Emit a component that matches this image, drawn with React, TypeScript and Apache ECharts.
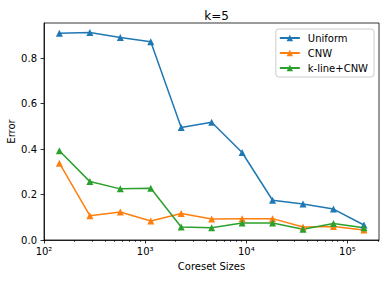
import React, { useEffect, useRef } from "react";
import * as echarts from "echarts";

const coresetSizes = [142, 284, 568, 1136, 2272, 4544, 9088, 18176, 36352, 72704, 145408];
const uniform = [0.91, 0.913, 0.891, 0.873, 0.495, 0.518, 0.385, 0.175, 0.158, 0.136, 0.066];
const cnw = [0.338, 0.107, 0.123, 0.084, 0.117, 0.092, 0.093, 0.094, 0.057, 0.059, 0.044];
const klineCnw = [0.393, 0.257, 0.225, 0.228, 0.057, 0.054, 0.075, 0.075, 0.047, 0.073, 0.054];
const majorXTicks = [100, 1000, 10000, 100000];
const minorXTicks = [
  200, 300, 400, 500, 600, 700, 800, 900,
  2000, 3000, 4000, 5000, 6000, 7000, 8000, 9000,
  20000, 30000, 40000, 50000, 60000, 70000, 80000, 90000,
  200000,
];
const yTicks = [0, 0.2, 0.4, 0.6, 0.8];
const supDigits: Record<string, string> = { "2": "²", "3": "³", "4": "⁴", "5": "⁵" };

const FONT = "DejaVu Sans";
const X_MIN = 100;
const X_MAX = 205000;

export default function App() {
  const ref = useRef<HTMLDivElement>(null);
  useEffect(() => {
    if (!ref.current) return;
    const chart = echarts.init(ref.current, undefined, { renderer: "svg" });
    const mk = (name: string, vals: number[], color: string) => ({
      name,
      type: "line",
      data: coresetSizes.map((x, i) => [x, vals[i]]),
      xAxisIndex: 0,
      yAxisIndex: 0,
      symbol: "triangle",
      symbolSize: 7,
      showSymbol: true,
      lineStyle: { color, width: 1.5 },
      itemStyle: { color },
      emphasis: { disabled: true },
    });
    chart.setOption({
      animation: false,
      textStyle: { fontFamily: FONT },
      title: {
        text: "k=5",
        left: 211.5,
        textAlign: "center",
        top: 5,
        textStyle: { fontFamily: FONT, fontSize: 12, fontWeight: "normal", color: "#000" },
      },
      grid: {
        left: 44,
        right: 10,
        top: 23,
        bottom: 42,
        containLabel: false,
        outerBoundsMode: "none",
        show: true,
        borderColor: "#000",
        borderWidth: 0.8,
        backgroundColor: "transparent",
      },
      legend: {
        orient: "vertical",
        right: 15,
        top: 29,
        padding: [4, 6, 4, 3],
        itemWidth: 20,
        itemHeight: 8,
        itemGap: 5,
        borderColor: "#ccc",
        borderWidth: 1,
        borderRadius: 3,
        backgroundColor: "rgba(255,255,255,0.8)",
        textStyle: { fontFamily: FONT, fontSize: 10, color: "#000", padding: [0, 0, 0, 3] },
        data: ["Uniform", "CNW", "k-line+CNW"],
      },
      xAxis: [
        {
          type: "log",
          logBase: 10,
          min: X_MIN,
          max: X_MAX,
          name: "Coreset Sizes",
          nameLocation: "middle",
          nameGap: 21,
          nameMoveOverlap: false,
          nameTextStyle: { fontFamily: FONT, fontSize: 10, color: "#000" },
          axisLine: { show: true, lineStyle: { color: "#000", width: 0.8 } },
          axisTick: {
            show: true,
            inside: false,
            length: 3.5,
            lineStyle: { color: "#000", width: 0.8 },
            customValues: majorXTicks,
          },
          axisLabel: {
            show: true,
            margin: 6,
            fontFamily: FONT,
            fontSize: 10,
            color: "#000",
            customValues: majorXTicks,
            formatter: (v: number) => {
              const e = String(Math.round(Math.log10(v)));
              return "10" + (supDigits[e] || e);
            },
          },
          splitLine: { show: false },
          minorTick: { show: false },
        },
        {
          type: "log",
          logBase: 10,
          min: X_MIN,
          max: X_MAX,
          position: "bottom",
          axisLine: { show: false },
          axisTick: {
            show: true,
            inside: false,
            length: 2,
            lineStyle: { color: "#000", width: 0.6 },
            customValues: minorXTicks,
          },
          axisLabel: { show: false },
          splitLine: { show: false },
        },
      ],
      yAxis: {
        type: "value",
        min: 0,
        max: 0.955,
        name: "Error",
        nameLocation: "middle",
        nameGap: 28,
        nameMoveOverlap: false,
        nameTextStyle: { fontFamily: FONT, fontSize: 10, color: "#000" },
        axisLine: { show: true, lineStyle: { color: "#000", width: 0.8 } },
        axisTick: {
          show: true,
          inside: false,
          length: 3.5,
          lineStyle: { color: "#000", width: 0.8 },
          customValues: yTicks,
        },
        axisLabel: {
          margin: 7,
          fontFamily: FONT,
          fontSize: 10,
          color: "#000",
          customValues: yTicks,
          formatter: (v: number) => v.toFixed(1),
        },
        splitLine: { show: false },
      },
      series: [
        mk("Uniform", uniform, "#1f77b4"),
        mk("CNW", cnw, "#ff7f0e"),
        mk("k-line+CNW", klineCnw, "#2ca02c"),
      ],
    });
    return () => chart.dispose();
  }, []);
  return (
    <div
      ref={ref}
      style={{ position: "fixed", left: 0, top: 0, width: 389, height: 282, background: "#fff" }}
    />
  );
}
